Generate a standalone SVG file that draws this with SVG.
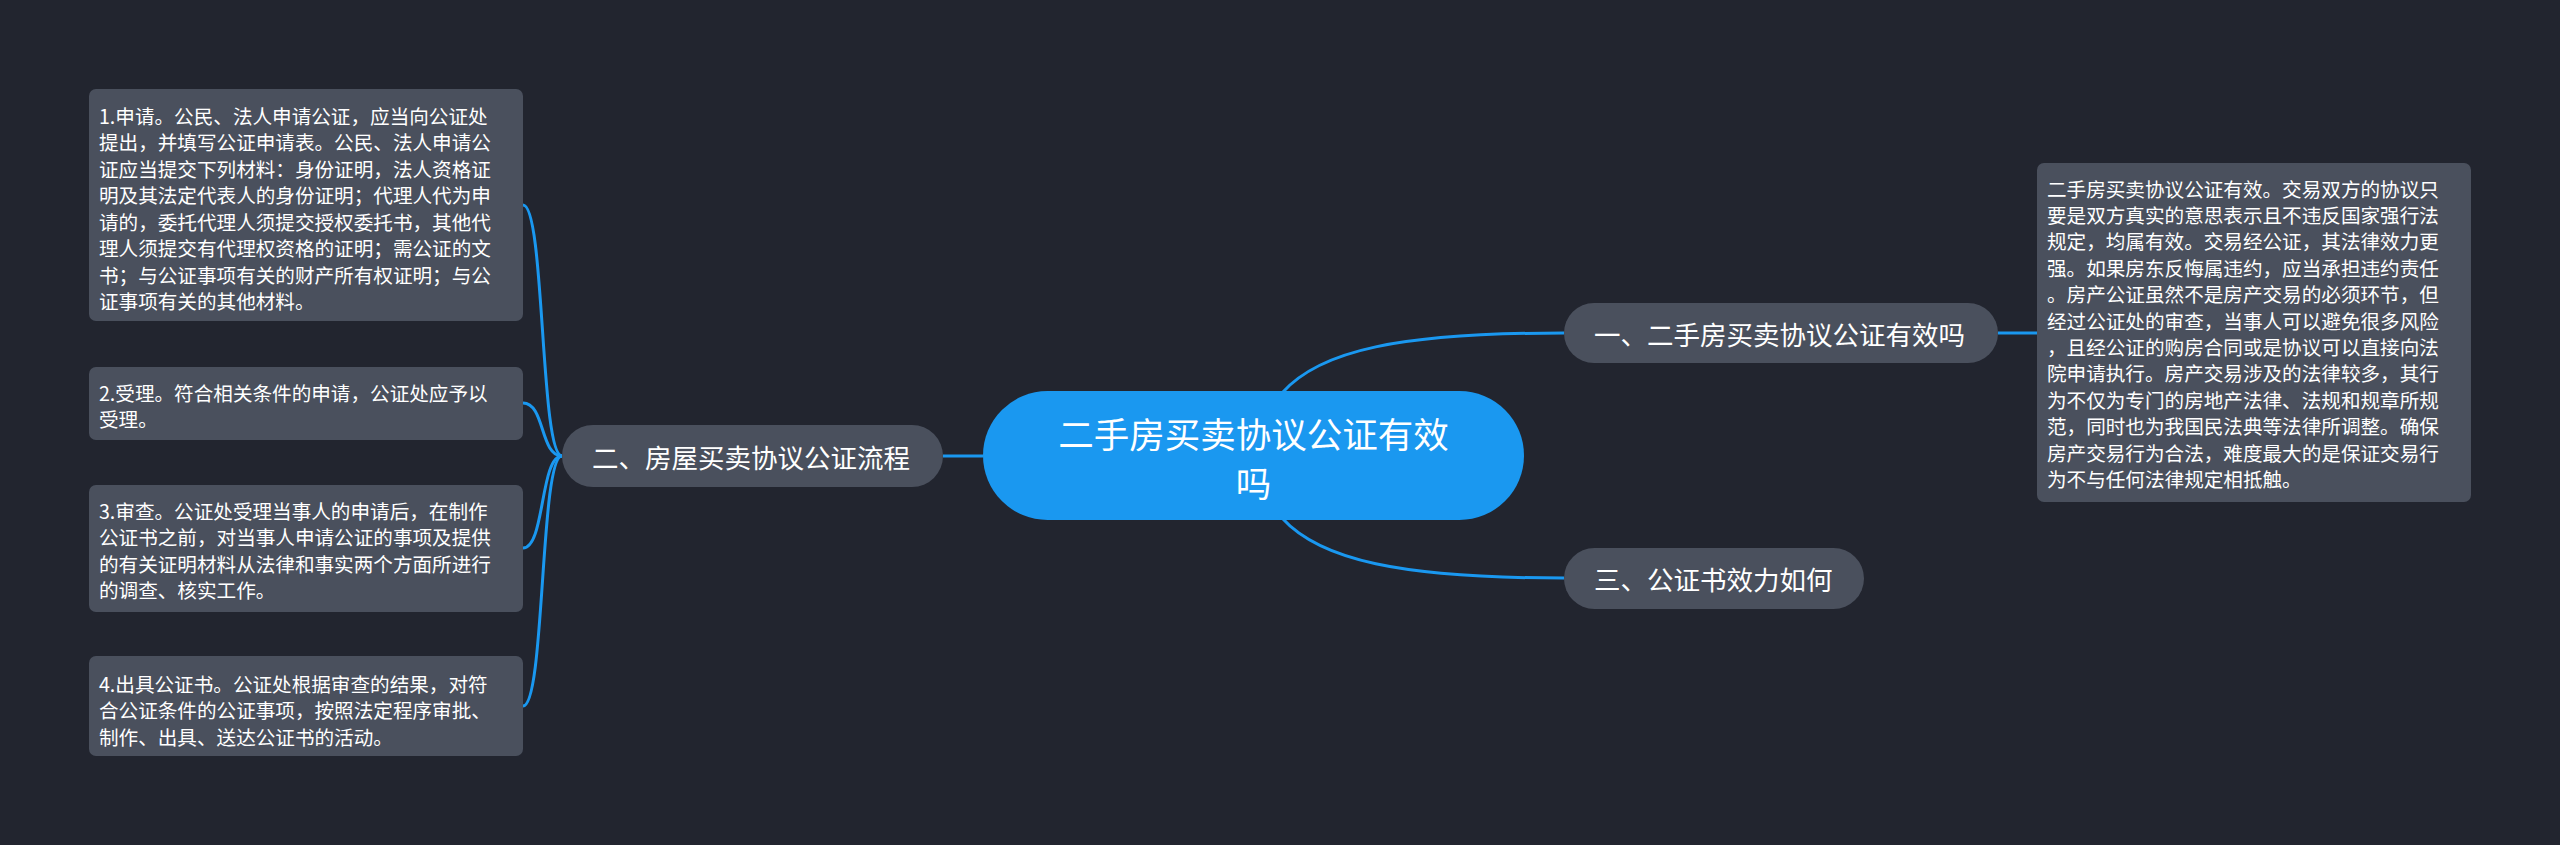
<svg xmlns="http://www.w3.org/2000/svg" width="2560" height="845" viewBox="0 0 2560 845">
<style>
.bg{fill:#22252f}
.sub{fill:#4a505d}
.leaf{fill:#4a505d}
.root{fill:#1a98f0}
.ln{fill:none;stroke:#1a98f0;stroke-width:3}
text{font-family:"Noto Sans CJK SC","Noto Sans",sans-serif;fill:#ffffff;dominant-baseline:central}
.t{font-size:19.6px}
.m{font-size:26.5px}
.r{font-size:35.5px;text-anchor:middle}
</style>
<rect class="bg" x="0" y="0" width="2560" height="845"/>
<g id="connectors">
<path class="ln" d="M1282,393 C1320,350 1400,333 1564,333"/>
<path class="ln" d="M1282,518 C1320,560 1400,578 1564,578"/>
<path class="ln" d="M943,456 L983,456"/>
<path class="ln" d="M1998,333 L2037,333"/>
<path class="ln" d="M562,456 C540,456 545,205 523,205"/>
<path class="ln" d="M562,456 C540,456 545,403 523,403"/>
<path class="ln" d="M562,456 C540,456 545,548 523,548"/>
<path class="ln" d="M562,456 C540,456 545,706 523,706"/>
</g>
<g id="root">
<rect class="root" x="983" y="391" width="541" height="129" rx="64.5"/>
<text class="r" x="1253.5" y="432">二手房买卖协议公证有效</text>
<text class="r" x="1253.5" y="481">吗</text>
</g>
<g id="n1">
<rect class="sub" x="1564" y="303" width="434" height="60" rx="30"/>
<text class="m" x="1594" y="333">一、二手房买卖协议公证有效吗</text>
</g>
<g id="n2">
<rect class="sub" x="562" y="425" width="381" height="62" rx="31"/>
<text class="m" x="592" y="456">二、房屋买卖协议公证流程</text>
</g>
<g id="n3">
<rect class="sub" x="1564" y="548" width="300" height="61" rx="30.5"/>
<text class="m" x="1594" y="578">三、公证书效力如何</text>
</g>
<g id="n1-detail">
<rect class="leaf" x="2037" y="163" width="434" height="339" rx="7"/>
<text class="t" x="2047" y="188">二手房买卖协议公证有效。交易双方的协议只</text>
<text class="t" x="2047" y="214.4">要是双方真实的意思表示且不违反国家强行法</text>
<text class="t" x="2047" y="240.8">规定，均属有效。交易经公证，其法律效力更</text>
<text class="t" x="2047" y="267.2">强。如果房东反悔属违约，应当承担违约责任</text>
<text class="t" x="2047" y="293.6">。房产公证虽然不是房产交易的必须环节，但</text>
<text class="t" x="2047" y="320">经过公证处的审查，当事人可以避免很多风险</text>
<text class="t" x="2047" y="346.4">，且经公证的购房合同或是协议可以直接向法</text>
<text class="t" x="2047" y="372.8">院申请执行。房产交易涉及的法律较多，其行</text>
<text class="t" x="2047" y="399.2">为不仅为专门的房地产法律、法规和规章所规</text>
<text class="t" x="2047" y="425.6">范，同时也为我国民法典等法律所调整。确保</text>
<text class="t" x="2047" y="452">房产交易行为合法，难度最大的是保证交易行</text>
<text class="t" x="2047" y="478.4">为不与任何法律规定相抵触。</text>
</g>
<g id="step1">
<rect class="leaf" x="89" y="89" width="434" height="232" rx="7"/>
<text class="t" x="99" y="115">1.申请。公民、法人申请公证，应当向公证处</text>
<text class="t" x="99" y="141.5">提出，并填写公证申请表。公民、法人申请公</text>
<text class="t" x="99" y="168">证应当提交下列材料：身份证明，法人资格证</text>
<text class="t" x="99" y="194.5">明及其法定代表人的身份证明；代理人代为申</text>
<text class="t" x="99" y="221">请的，委托代理人须提交授权委托书，其他代</text>
<text class="t" x="99" y="247.5">理人须提交有代理权资格的证明；需公证的文</text>
<text class="t" x="99" y="274">书；与公证事项有关的财产所有权证明；与公</text>
<text class="t" x="99" y="300.5">证事项有关的其他材料。</text>
</g>
<g id="step2">
<rect class="leaf" x="89" y="367" width="434" height="73" rx="7"/>
<text class="t" x="99" y="392">2.受理。符合相关条件的申请，公证处应予以</text>
<text class="t" x="99" y="418.5">受理。</text>
</g>
<g id="step3">
<rect class="leaf" x="89" y="485" width="434" height="127" rx="7"/>
<text class="t" x="99" y="510">3.审查。公证处受理当事人的申请后，在制作</text>
<text class="t" x="99" y="536.5">公证书之前，对当事人申请公证的事项及提供</text>
<text class="t" x="99" y="563">的有关证明材料从法律和事实两个方面所进行</text>
<text class="t" x="99" y="589.5">的调查、核实工作。</text>
</g>
<g id="step4">
<rect class="leaf" x="89" y="656" width="434" height="100" rx="7"/>
<text class="t" x="99" y="683">4.出具公证书。公证处根据审查的结果，对符</text>
<text class="t" x="99" y="709.5">合公证条件的公证事项，按照法定程序审批、</text>
<text class="t" x="99" y="736">制作、出具、送达公证书的活动。</text>
</g>
</svg>
